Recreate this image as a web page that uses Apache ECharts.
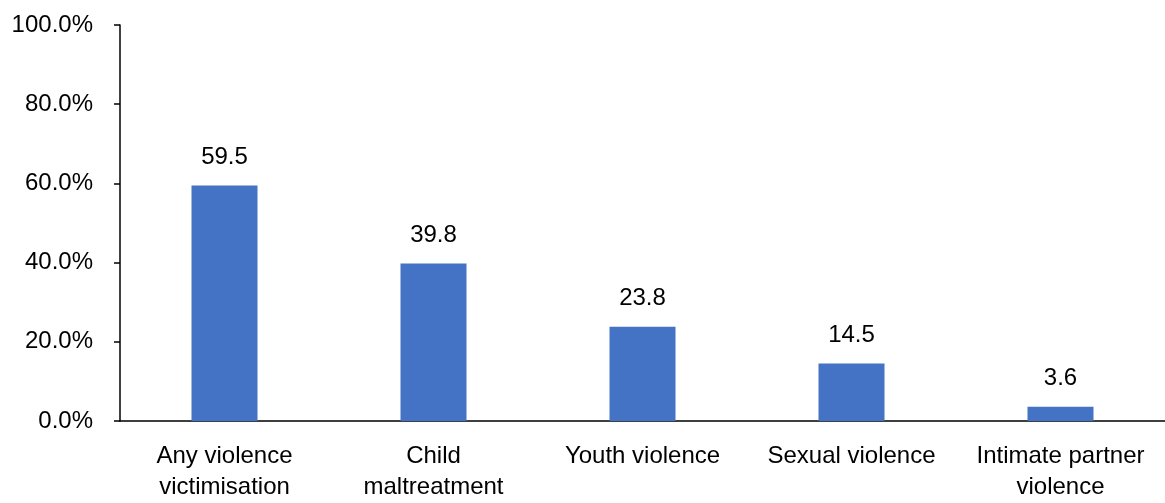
<!DOCTYPE html>
<html><head><meta charset="utf-8">
<script src="https://cdn.jsdelivr.net/npm/echarts@6/dist/echarts.min.js"></script>
<style>html,body{margin:0;padding:0;background:#fff}#c{width:1165px;height:503px}</style>
</head><body><div id="c"></div>
<script>
const categories = ["Any violence\nvictimisation", "Child\nmaltreatment", "Youth violence", "Sexual violence", "Intimate partner\nviolence"];
const values = [59.5, 39.8, 23.8, 14.5, 3.6];
const yTicks = [0, 20, 40, 60, 80, 100];

const chart = echarts.init(document.getElementById('c'), null, {renderer: 'canvas'});
const font = '"Liberation Sans", Arial, sans-serif';
chart.setOption({
  animation: false,
  grid: {left: 120, top: 25, width: 1046, height: 396, containLabel: false},
  xAxis: {
    type: 'category', data: categories,
    axisLine: {lineStyle: {color: '#000', width: 1.5}},
    axisTick: {alignWithLabel: true, length: 6, lineStyle: {color: '#000', width: 1.5}},
    axisLabel: {color: '#000', fontSize: 24, fontFamily: font, lineHeight: 31, margin: 20, interval: 0}
  },
  yAxis: {
    type: 'value', min: yTicks[0], max: yTicks[yTicks.length - 1], interval: 20,
    axisLine: {show: true, lineStyle: {color: '#000', width: 1.5}},
    axisTick: {show: true, length: 6, lineStyle: {color: '#000', width: 1.5}},
    splitLine: {show: false},
    axisLabel: {color: '#000', fontSize: 24, fontFamily: font, margin: 27, formatter: v => v.toFixed(1) + '%'}
  },
  series: [{
    type: 'bar', data: values, barWidth: 66,
    itemStyle: {color: '#4472C4'},
    label: {show: true, position: 'top', distance: 16, color: '#000', fontSize: 24, fontFamily: font, formatter: p => p.value.toFixed(1)}
  }]
});
</script></body></html>
